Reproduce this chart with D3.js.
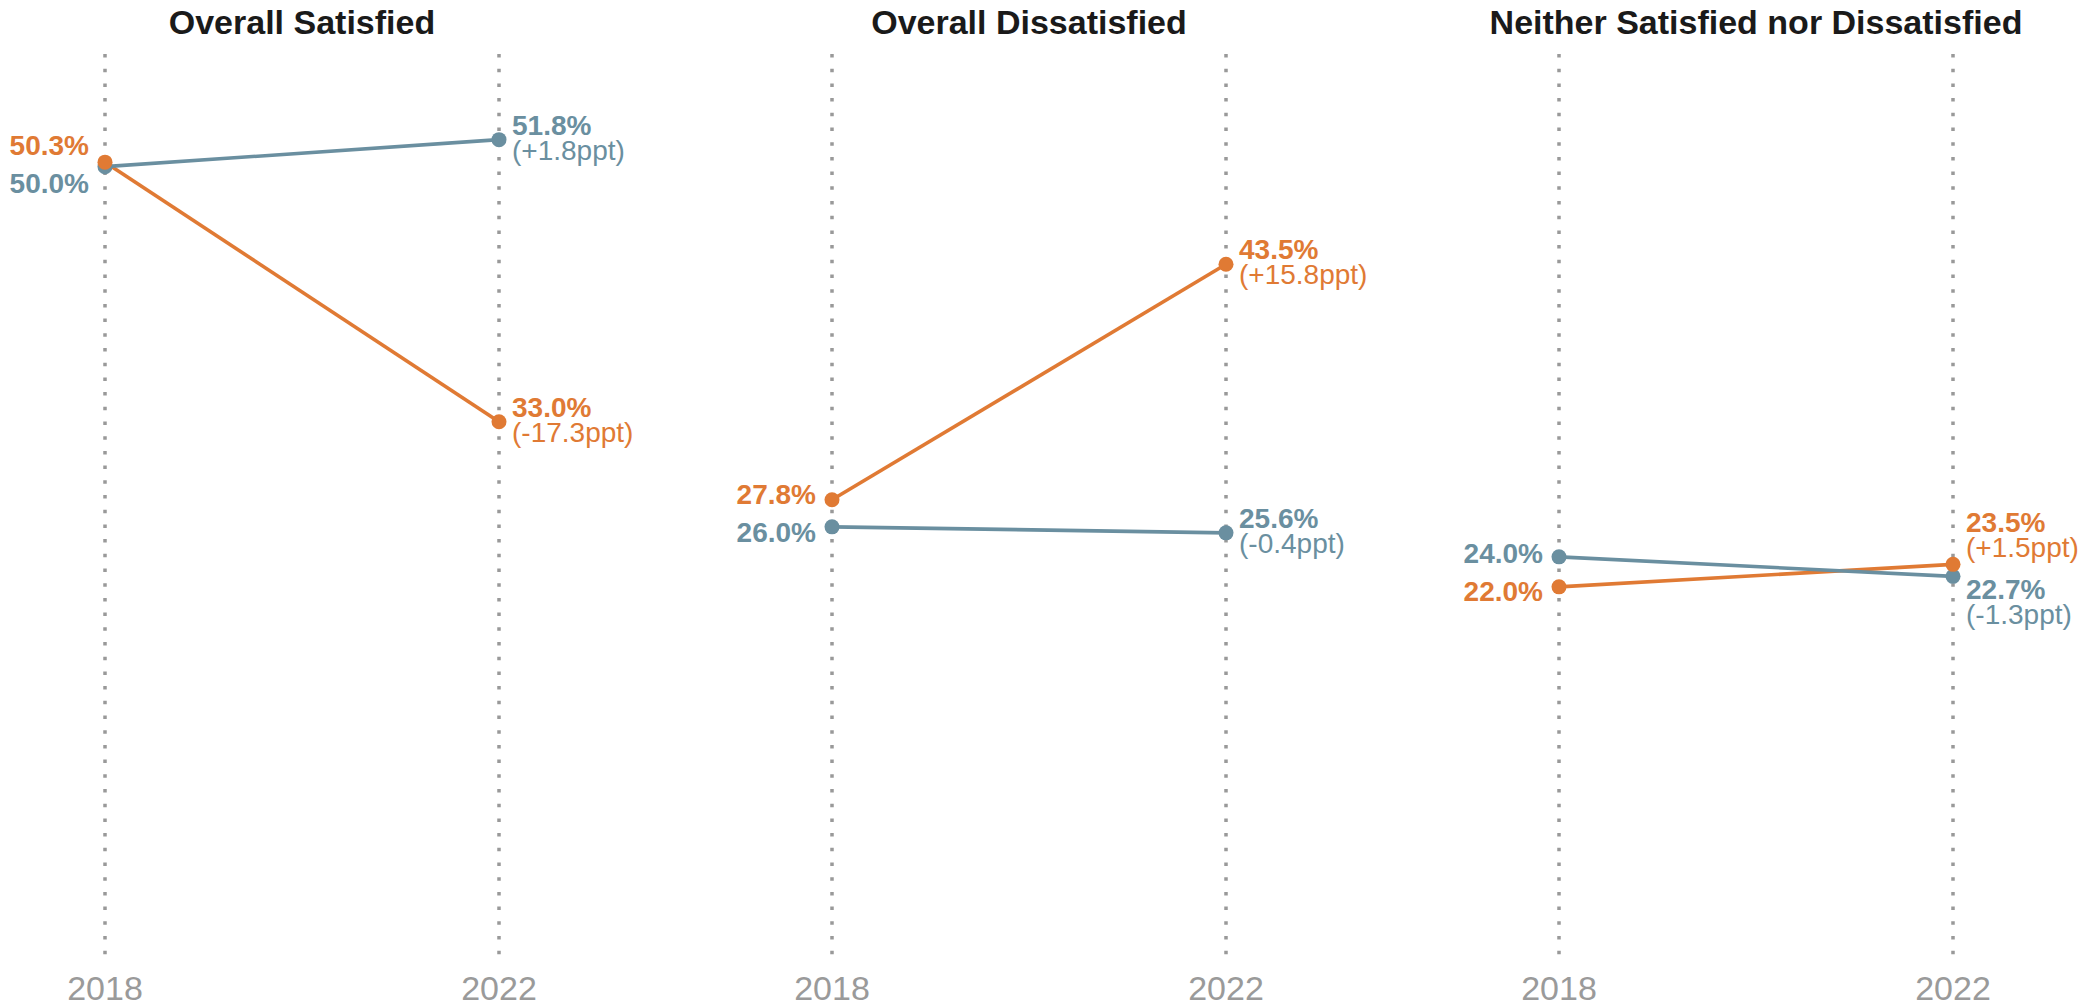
<!DOCTYPE html>
<html>
<head>
<meta charset="utf-8">
<script src="https://cdn.jsdelivr.net/npm/d3@7"></script>
<style>
  html, body { margin: 0; padding: 0; background: #ffffff; }
  svg { display: block; font-family: "Liberation Sans", Arial, sans-serif; }
</style>
</head>
<body>
<svg id="chart" width="2087" height="1008"></svg>
<script>
// ---- Data ----
const categories = ["Overall Satisfied", "Overall Dissatisfied", "Neither Satisfied nor Dissatisfied"];
const years = ["2018", "2022"];
const blue2018 = [50.0, 26.0, 24.0];
const blue2022 = [51.8, 25.6, 22.7];
const blueChange = [1.8, -0.4, -1.3];
const orange2018 = [50.3, 27.8, 22.0];
const orange2022 = [33.0, 43.5, 23.5];
const orangeChange = [-17.3, 15.8, 1.5];

const BLUE = "#6a8fa0";
const ORANGE = "#e07a34";

const svg = d3.select("#chart");

const panelX = d3.scaleLinear().domain([0, categories.length - 1]).range([105, 1559]);
const x = d3.scalePoint().domain(years).range([0, 394]);
const y = d3.scaleLinear().domain([0, 60]).range([917, 16.6]);

const series = [
  { name: "blue", color: BLUE, v18: blue2018, v22: blue2022, ch: blueChange },
  { name: "orange", color: ORANGE, v18: orange2018, v22: orange2022, ch: orangeChange }
];

function repel(items, minSep) {
  const s = items.slice().sort((a, b) => a.c - b.c);
  for (let i = 1; i < s.length; i++) {
    const gap = s[i].c - s[i - 1].c;
    if (gap < minSep) {
      const mid = (s[i].c + s[i - 1].c) / 2;
      s[i - 1].c = mid - minSep / 2;
      s[i].c = mid + minSep / 2;
    }
  }
  return items;
}

const fmtPct = v => v.toFixed(1);
const fmtCh = v => (v > 0 ? "+" : v < 0 ? "-" : "") + Math.abs(v).toFixed(1);

categories.forEach((cat, i) => {
  const g = svg.append("g").attr("transform", `translate(${panelX(i)},0)`);

  g.append("text")
    .attr("x", (x("2018") + x("2022")) / 2)
    .attr("y", 34)
    .attr("text-anchor", "middle")
    .attr("font-size", 34)
    .attr("font-weight", "bold")
    .attr("fill", "#1a1a1a")
    .text(cat);

  years.forEach(yr => {
    g.append("line")
      .attr("x1", x(yr)).attr("x2", x(yr))
      .attr("y1", 54).attr("y2", 962)
      .attr("stroke", "#999999")
      .attr("stroke-width", 3.5)
      .attr("stroke-dasharray", "3.5,11.2");
    g.append("text")
      .attr("x", x(yr))
      .attr("y", 1000)
      .attr("text-anchor", "middle")
      .attr("font-size", 34)
      .attr("fill", "#9a9a9a")
      .text(yr);
  });

  [series[1], series[0]].forEach(s => {
    g.append("line")
      .attr("x1", x("2018")).attr("y1", y(s.v18[i]))
      .attr("x2", x("2022")).attr("y2", y(s.v22[i]))
      .attr("stroke", s.color)
      .attr("stroke-width", 3.6);
  });
  series.forEach(s => {
    g.append("circle").attr("cx", x("2018")).attr("cy", y(s.v18[i])).attr("r", 7.5).attr("fill", s.color);
    g.append("circle").attr("cx", x("2022")).attr("cy", y(s.v22[i])).attr("r", 7.5).attr("fill", s.color);
  });

  const left = repel(series.map(s => ({ s, c: y(s.v18[i]) })), 38);
  left.forEach(d => {
    g.append("text")
      .attr("x", x("2018") - 16)
      .attr("y", d.c + 10)
      .attr("text-anchor", "end")
      .attr("font-size", 28)
      .attr("font-weight", "bold")
      .attr("fill", d.s.color)
      .text(fmtPct(d.s.v18[i]) + "%");
  });

  const right = repel(series.map(s => ({ s, c: y(s.v22[i]) })), 67);
  right.forEach(d => {
    g.append("text")
      .attr("x", x("2022") + 13)
      .attr("y", d.c - 5)
      .attr("fill", d.s.color)
      .attr("font-size", 28)
      .attr("font-weight", "bold")
      .text(fmtPct(d.s.v22[i]) + "%");
    g.append("text")
      .attr("x", x("2022") + 13)
      .attr("y", d.c + 20)
      .attr("fill", d.s.color)
      .attr("font-size", 28)
      .text("(" + fmtCh(d.s.ch[i]) + "ppt)");
  });
});
</script>
</body>
</html>
